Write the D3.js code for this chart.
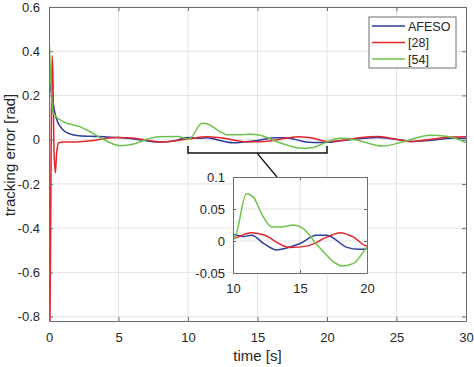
<!DOCTYPE html>
<html>
<head>
<meta charset="utf-8">
<script src="https://cdn.jsdelivr.net/npm/d3@7"></script>
<style>
  body { margin: 0; background: #fff; }
  text { font-family: "Liberation Sans", Arial, sans-serif; fill: #262626; }
</style>
</head>
<body>
<div class="chart"></div>
<script>
// ---- data ----
const seriesNames = ["AFESO", "[28]", "[54]"];
const colors = ["#2b3d9e", "#e2262b", "#6fc24b"];

const afeso = [[0,0.28],[0.2,0.2],[0.5,0.1],[1,0.045],[1.5,0.026],[2,0.019],[3,0.015],[4,0.013],[5,0.01],
  [6,0.004],[7,-0.005],[8,-0.011],[9,-0.006],[10,0.01],[10.75,0.007],[11.4,0.009],[12.3,-0.004],[13.25,-0.014],
  [14,-0.011],[15,-0.004],[16.2,0.009],[17,0.009],[18.5,-0.01],[19.4,-0.013],[20,-0.012],[21,-0.005],
  [22.7,0.006],[23.6,0.01],[24.8,0.003],[26.2,-0.008],[27.3,-0.004],[29,0.006],[30,0.006]];

const ref28 = [[0,0.6],[0.07,-0.82],[0.14,-0.2],[0.22,0.38],[0.28,0.3],[0.36,-0.05],[0.46,-0.15],
  [0.55,-0.06],[0.7,-0.014],[1,-0.01],[2,-0.01],[3,-0.005],[4,0.005],[5,0.01],[6,0.008],[7,-0.002],
  [8,-0.01],[9,-0.006],[10,0.003],[11.4,0.013],[12.2,0.01],[14.25,-0.01],[15.5,-0.008],[17,0.006],
  [18,0.013],[19,0.006],[20,-0.008],[21,-0.004],[22.5,0.01],[23.6,0.014],[24.8,0.004],[26,-0.009],
  [27.5,0.002],[29,0.012],[30,0.013]];

const ref54 = [[0,0.48],[0.3,0.12],[1.03,0.081],[2.2,0.059],[2.95,0.036],[3.9,0.002],[5.1,-0.027],
  [6.1,-0.02],[7.2,0.005],[7.9,0.013],[9.3,0.014],[10,0.002],[10.25,0.012],[11,0.074],[11.5,0.069],
  [12.2,0.04],[12.9,0.022],[13.6,0.022],[14.5,0.025],[15.2,0.02],[16.4,-0.009],[18.2,-0.039],
  [19,-0.035],[20,-0.01],[20.9,0.006],[22,0.0],[24,-0.029],[25.5,-0.009],[27.4,0.02],[28.6,0.015],[30,-0.013]];

const series = [afeso, ref28, ref54];

const xTicks = [0, 5, 10, 15, 20, 25, 30];
const yTicks = [-0.8, -0.6, -0.4, -0.2, 0, 0.2, 0.4, 0.6];
const insetXTicks = [10, 15, 20];
const insetYTicks = [-0.05, 0, 0.05, 0.1];

// ---- layout ----
const W = 474, H = 367;
const svg = d3.select('.chart').append('svg').attr('width', W).attr('height', H);

const x = d3.scaleLinear().domain([0, 30]).range([49, 466]);
const y = d3.scaleLinear().domain([-0.82, 0.6]).range([321, 7]);

const gridColor = "#e3e3e3", boxColor = "#6e6e6e";

// grid
svg.append('g').selectAll('line').data(xTicks.slice(1, -1)).enter().append('line')
  .attr('x1', d => x(d)).attr('x2', d => x(d)).attr('y1', y.range()[1]).attr('y2', y.range()[0])
  .attr('stroke', gridColor);
svg.append('g').selectAll('line').data(yTicks).enter().append('line')
  .attr('y1', d => y(d)).attr('y2', d => y(d)).attr('x1', x.range()[0]).attr('x2', x.range()[1])
  .attr('stroke', gridColor);

function drawLines(g, xs, ys, clipId, width) {
  const line = d3.line().x(d => xs(d[0])).y(d => ys(d[1])).curve(d3.curveMonotoneX);
  g.selectAll('path.s').data(series).enter().append('path')
    .attr('class', 's')
    .attr('d', line)
    .attr('fill', 'none')
    .attr('stroke', (d, i) => colors[i])
    .attr('stroke-width', width)
    .attr('clip-path', clipId ? `url(#${clipId})` : null);
}

// clip for main
svg.append('clipPath').attr('id', 'clipMain').append('rect')
  .attr('x', x.range()[0]).attr('y', y.range()[1])
  .attr('width', x.range()[1] - x.range()[0]).attr('height', y.range()[0] - y.range()[1]);

drawLines(svg.append('g'), x, y, 'clipMain', 1.5);

// axes with inward ticks
function boxAxes(g, xs, ys, xt, yt, fmtY, tick) {
  g.append('g').attr('transform', `translate(0,${ys.range()[0]})`)
    .call(d3.axisBottom(xs).tickValues(xt).tickSizeInner(-tick).tickSizeOuter(0).tickPadding(8 + tick));
  g.append('g').attr('transform', `translate(0,${ys.range()[1]})`)
    .call(d3.axisTop(xs).tickValues(xt).tickSizeInner(-tick).tickSizeOuter(0).tickFormat(''));
  g.append('g').attr('transform', `translate(${xs.range()[0]},0)`)
    .call(d3.axisLeft(ys).tickValues(yt).tickSizeInner(-tick).tickSizeOuter(0).tickPadding(5 + tick).tickFormat(fmtY));
  g.append('g').attr('transform', `translate(${xs.range()[1]},0)`)
    .call(d3.axisRight(ys).tickValues(yt).tickSizeInner(-tick).tickSizeOuter(0).tickFormat(''));
  g.selectAll('.domain').attr('stroke', boxColor);
  g.selectAll('.tick line').attr('stroke', boxColor);
  g.selectAll('.tick text').style('font-family', '"Liberation Sans", Arial, sans-serif')
    .style('font-size', '13px').attr('fill', '#262626');
}

const fmtMain = d => d === 0 ? '0' : d3.format('.1f')(d).replace('−', '-');
boxAxes(svg.append('g'), x, y, xTicks, yTicks, fmtMain, 4);

// axis labels
svg.append('text').attr('x', (x.range()[0] + x.range()[1]) / 2).attr('y', 361)
  .attr('text-anchor', 'middle').style('font-size', '15px').text('time [s]');
svg.append('text').attr('transform', `translate(15,155) rotate(-90)`)
  .attr('text-anchor', 'middle').style('font-size', '15px').text('tracking error [rad]');

// legend
const leg = svg.append('g');
leg.append('rect').attr('x', 369).attr('y', 17).attr('width', 87).attr('height', 51)
  .attr('fill', '#fff').attr('stroke', boxColor);
seriesNames.forEach((n, i) => {
  const ly = 26 + i * 16.5;
  leg.append('line').attr('x1', 372).attr('x2', 405).attr('y1', ly).attr('y2', ly)
    .attr('stroke', colors[i]).attr('stroke-width', 1.5);
  leg.append('text').attr('x', 408).attr('y', ly + 4.5).style('font-size', '12.5px').text(n);
});

// bracket marking the zoomed range
const by = 153;
svg.append('path')
  .attr('d', `M${x(10)},${by - 7}V${by}H${x(20)}V${by - 7}`)
  .attr('fill', 'none').attr('stroke', '#111').attr('stroke-width', 1.5);
svg.append('line').attr('x1', 257).attr('y1', by).attr('x2', 277).attr('y2', 177)
  .attr('stroke', '#111').attr('stroke-width', 1.2);

// inset
const xi = d3.scaleLinear().domain([10, 20]).range([233, 367]);
const yi = d3.scaleLinear().domain([-0.05, 0.1]).range([273, 177]);
const inset = svg.append('g');
inset.append('rect').attr('x', 233).attr('y', 177).attr('width', 134).attr('height', 96).attr('fill', '#fff');
inset.selectAll('line.gx').data([15]).enter().append('line')
  .attr('x1', d => xi(d)).attr('x2', d => xi(d)).attr('y1', 177).attr('y2', 273).attr('stroke', gridColor);
inset.selectAll('line.gy').data([0, 0.05]).enter().append('line')
  .attr('y1', d => yi(d)).attr('y2', d => yi(d)).attr('x1', 233).attr('x2', 367).attr('stroke', gridColor);
inset.append('clipPath').attr('id', 'clipInset').append('rect')
  .attr('x', 233).attr('y', 177).attr('width', 134).attr('height', 96);
drawLines(inset.append('g'), xi, yi, 'clipInset', 1.5);
const fmtInset = d => d === 0 ? '0' : String(d);
boxAxes(inset.append('g'), xi, yi, insetXTicks, insetYTicks, fmtInset, 3);
</script>
</body>
</html>
